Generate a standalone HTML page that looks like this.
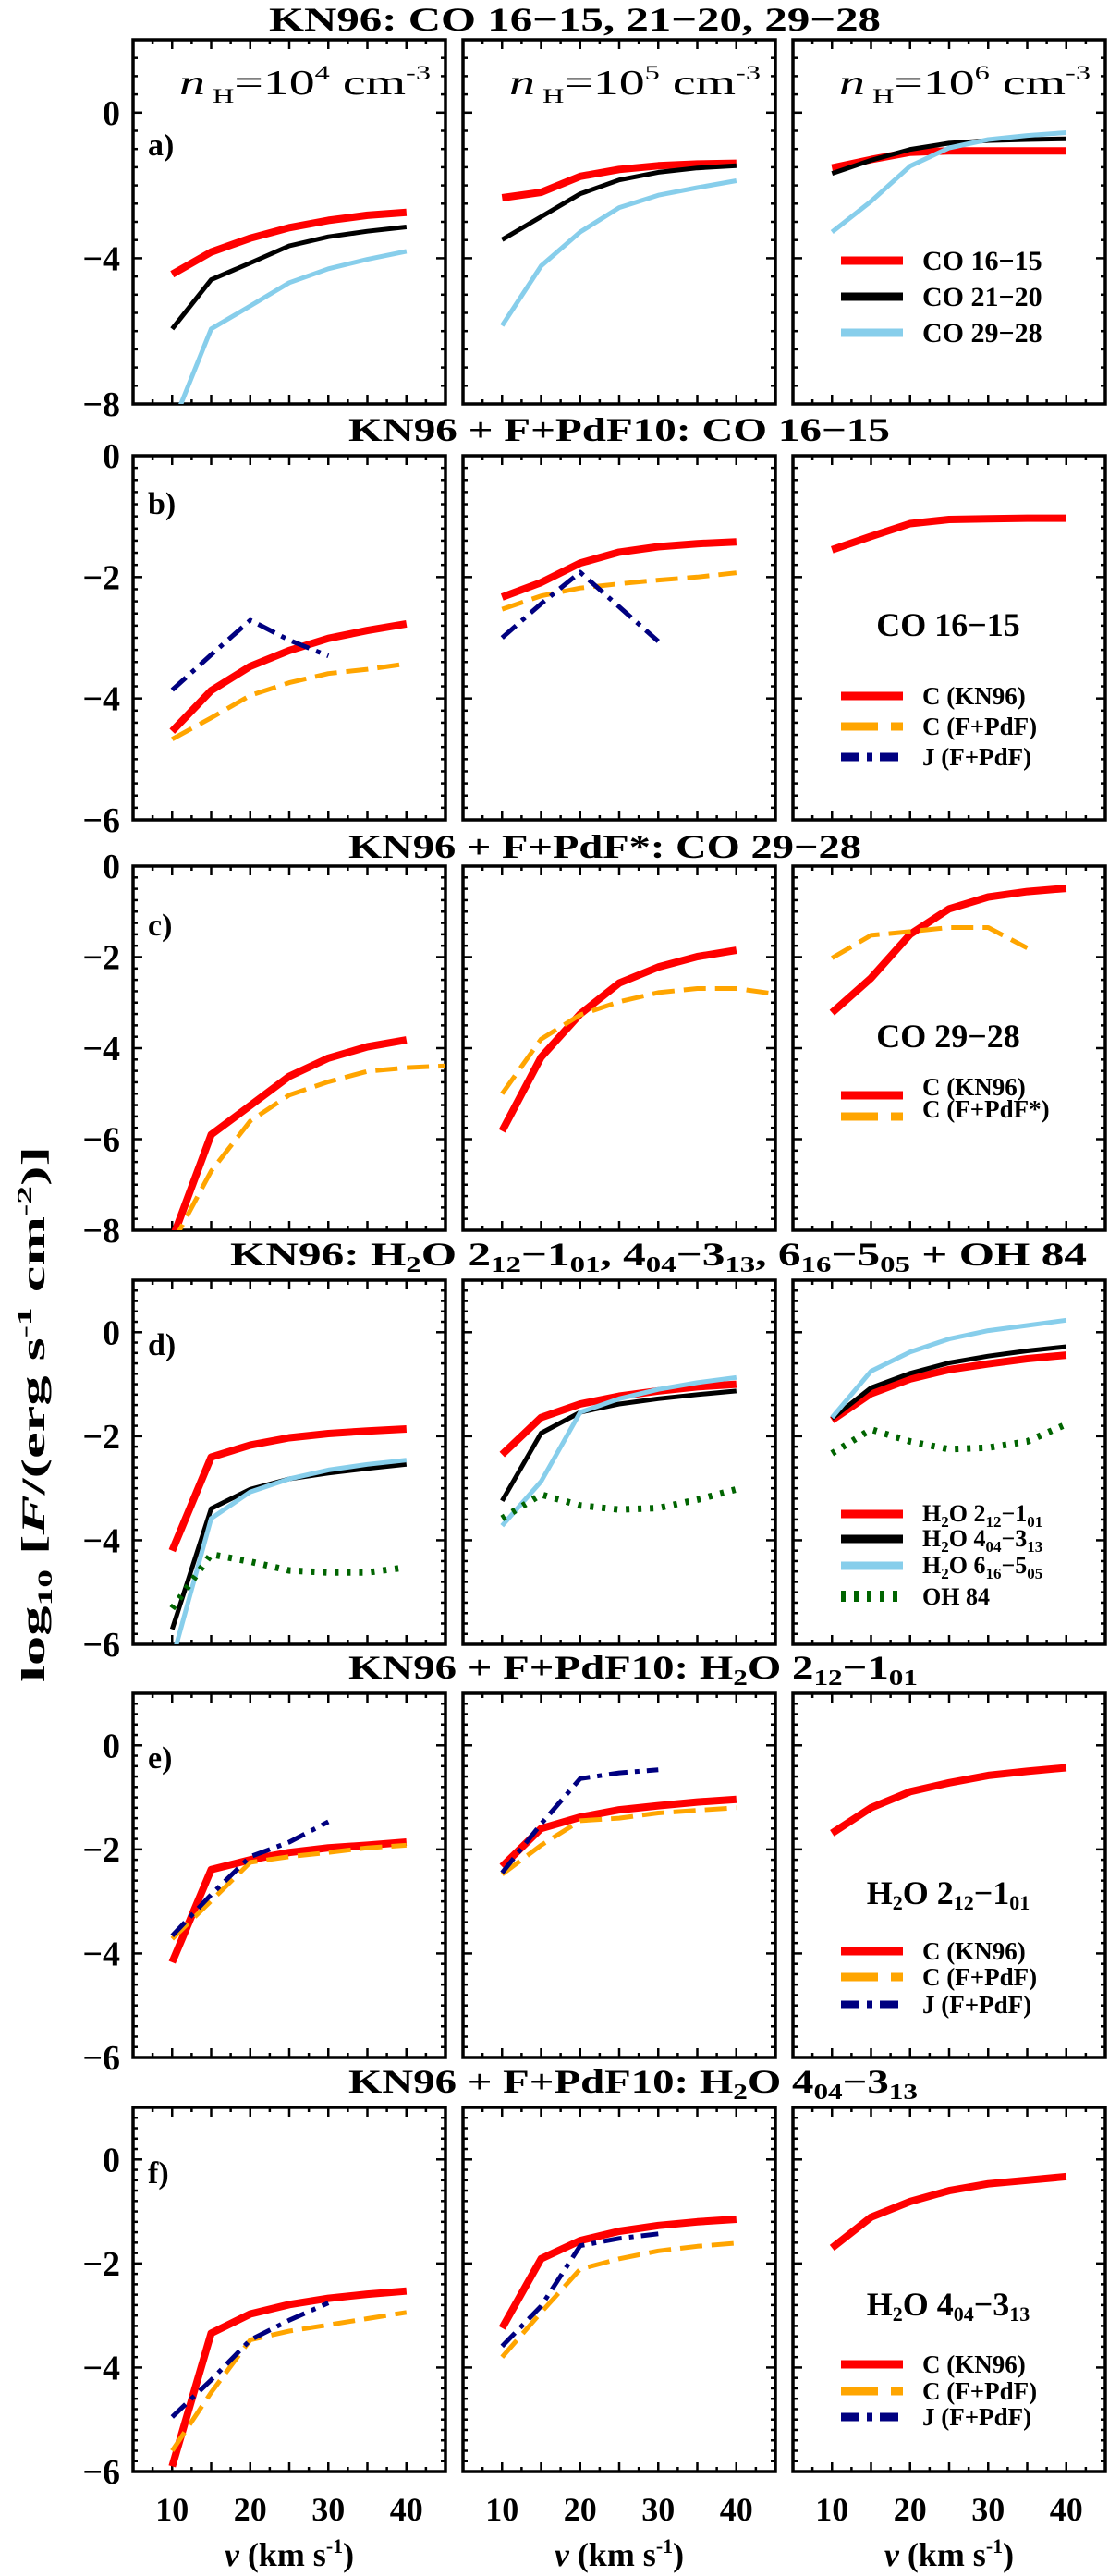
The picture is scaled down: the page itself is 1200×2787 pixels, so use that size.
<!DOCTYPE html>
<html><head><meta charset="utf-8"><title>Line fluxes vs shock velocity</title>
<style>
html,body{margin:0;padding:0;background:#fff;}
svg{display:block;font-family:"Liberation Serif",serif;}
text{fill:#000;}
</style></head>
<body>
<svg id="fig" width="1200" height="2787" viewBox="0 0 1200 2787" xmlns="http://www.w3.org/2000/svg"></svg>
<script>
// ---- data (log10 flux) ----
const V = [10,15,20,25,30,35,40];
const V30 = [10,15,20,25,30];
const V35 = [10,15,20,25,30,35];
const V45 = [10,15,20,25,30,35,40,45];
const xTicks = [10,20,30,40];

const a1Red = [-4.44,-3.83,-3.45,-3.16,-2.96,-2.82,-2.74];
const a1Black = [-5.94,-4.59,-4.13,-3.66,-3.41,-3.26,-3.14];
const a1Blue = [-8.6,-5.94,-5.31,-4.67,-4.29,-4.03,-3.81];
const a2Red = [-2.34,-2.19,-1.75,-1.56,-1.46,-1.41,-1.39];
const a2Black = [-3.49,-2.86,-2.23,-1.85,-1.64,-1.52,-1.46];
const a2Blue = [-5.85,-4.21,-3.28,-2.61,-2.27,-2.06,-1.87];
const a3Red = [-1.52,-1.29,-1.09,-1.05,-1.05,-1.05,-1.05];
const a3Black = [-1.67,-1.31,-1.01,-0.84,-0.77,-0.74,-0.72];
const a3Blue = [-3.28,-2.44,-1.47,-0.97,-0.74,-0.63,-0.55];

const b1Red = [-4.54,-3.87,-3.47,-3.21,-3.01,-2.88,-2.77];
const b1Orange = [-4.67,-4.32,-3.95,-3.74,-3.59,-3.52,-3.43];
const b1Navy = [-3.86,-3.28,-2.71,-3.04,-3.30];
const b2Red = [-2.33,-2.09,-1.77,-1.59,-1.50,-1.45,-1.42];
const b2Orange = [-2.53,-2.31,-2.18,-2.11,-2.05,-2.0,-1.93];
const b2Navy = [-3.0,-2.44,-1.92,-2.49,-3.06];
const b3Red = [-1.55,-1.33,-1.12,-1.05,-1.04,-1.03,-1.03];

const c1Red = [-8.2,-5.9,-5.26,-4.62,-4.22,-3.97,-3.82];
const c1Orange = [-8.3,-6.7,-5.6,-5.03,-4.74,-4.51,-4.43,-4.39];
const c2Red = [-5.82,-4.2,-3.25,-2.57,-2.22,-1.99,-1.85];
const c2Orange = [-5.0,-3.8,-3.27,-2.98,-2.78,-2.69,-2.69,-2.81];
const c3Red = [-3.22,-2.46,-1.5,-0.94,-0.68,-0.56,-0.49];
const c3Orange = [-2.02,-1.52,-1.44,-1.35,-1.35,-1.8];

const d1Red = [-4.2,-2.4,-2.17,-2.03,-1.95,-1.9,-1.86];
const d1Black = [-5.71,-3.39,-3.02,-2.82,-2.71,-2.62,-2.54];
const d1Blue = [-6.3,-3.58,-3.07,-2.82,-2.65,-2.54,-2.46];
const d1Green = [-5.31,-4.27,-4.41,-4.58,-4.62,-4.62,-4.52];
const d2Red = [-2.35,-1.64,-1.38,-1.23,-1.13,-1.05,-1.0];
const d2Black = [-3.24,-1.94,-1.54,-1.38,-1.28,-1.2,-1.13];
const d2Blue = [-3.72,-2.87,-1.54,-1.28,-1.10,-0.97,-0.87];
const d2Green = [-3.58,-3.12,-3.33,-3.41,-3.38,-3.22,-3.02];
const d3Red = [-1.69,-1.18,-0.9,-0.72,-0.61,-0.51,-0.44];
const d3Black = [-1.66,-1.07,-0.79,-0.59,-0.46,-0.36,-0.28];
const d3Blue = [-1.64,-0.75,-0.38,-0.13,0.03,0.13,0.23];
const d3Green = [-2.33,-1.87,-2.1,-2.25,-2.22,-2.1,-1.77];

const e1Red = [-4.17,-2.39,-2.2,-2.06,-1.97,-1.92,-1.86];
const e1Orange = [-3.72,-2.99,-2.25,-2.14,-2.06,-1.97,-1.92];
const e1Navy = [-3.66,-2.87,-2.14,-1.86,-1.47];
const e2Red = [-2.33,-1.6,-1.38,-1.24,-1.16,-1.09,-1.04];
const e2Orange = [-2.48,-1.92,-1.45,-1.40,-1.30,-1.25,-1.2];
const e2Navy = [-2.45,-1.51,-0.64,-0.53,-0.47];
const e3Red = [-1.69,-1.2,-0.89,-0.72,-0.58,-0.5,-0.43];

const f1Red = [-5.9,-3.34,-2.97,-2.79,-2.67,-2.59,-2.53];
const f1Orange = [-5.6,-4.48,-3.47,-3.3,-3.18,-3.06,-2.94];
const f1Navy = [-4.95,-4.24,-3.47,-3.09,-2.76];
const f2Red = [-3.24,-1.91,-1.56,-1.38,-1.27,-1.2,-1.15];
const f2Orange = [-3.8,-2.94,-2.11,-1.91,-1.76,-1.67,-1.61];
const f2Navy = [-3.59,-2.82,-1.66,-1.52,-1.43];
const f3Red = [-1.7,-1.11,-0.81,-0.6,-0.47,-0.4,-0.33];

// ---- layout ----
const NS = "http://www.w3.org/2000/svg";
const svg = document.getElementById('fig');
const colX = [144, 501, 858];
const PW = 338, PH = 394;
const rowTop = [43, 493, 937, 1385, 1832, 2280];
const rowYMin = [-8,-6,-8,-6,-6,-6];
const rowYMax = [2,0,0,1,1,1];
const rowYLabels = [[0,-4,-8],[0,-2,-4,-6],[0,-2,-4,-6,-8],[0,-2,-4,-6],[0,-2,-4,-6],[0,-2,-4,-6]];
const rowYMajor = [4,2,2,2,2,2];
const rowYMinor = [0.5,0.2,0.25,0.2,0.2,0.2];
const XMIN = 5, XMAX = 45;

function mk(tag, attrs, parent){
  const e = document.createElementNS(NS, tag);
  for (const k in attrs) e.setAttribute(k, attrs[k]);
  (parent||svg).appendChild(e);
  return e;
}
function xs(r,c,v){ return colX[c] + (v-XMIN)/(XMAX-XMIN)*PW; }
function ys(r,v){ return rowTop[r] + (rowYMax[r]-v)/(rowYMax[r]-rowYMin[r])*PH; }

const STY = {
  red:{stroke:'#ff0000',w:8,dash:''},
  black:{stroke:'#000000',w:5,dash:''},
  blue:{stroke:'#87ceeb',w:5,dash:''},
  orange:{stroke:'#ffa500',w:5,dash:'24 10'},
  navy:{stroke:'#000080',w:5,dash:'20 8 5 8'},
  green:{stroke:'#006400',w:7,dash:'4 9'}
};

const defs = mk('defs',{});
const panelLetters = ['a)','b)','c)','d)','e)','f)'];
const labelY = [168,556,1012,1466,1913,2362];
for (let r=0;r<6;r++){
  for (let c=0;c<3;c++){
    const g = mk('g',{});
    
    
    const cp = mk('clipPath',{id:'cp'+r+c},defs);
    mk('rect',{x:colX[c],y:rowTop[r],width:PW,height:PH},cp);
    const x0=colX[c], x1=colX[c]+PW, y0=rowTop[r], y1=rowTop[r]+PH;
    for (let v=7.5; v<XMAX; v+=2.5){
      const X = xs(r,c,v);
      const major = Math.abs(v/5-Math.round(v/5))<1e-6;
      const L = major?10:5;
      const t1 = mk('line',{x1:X,y1:y1,x2:X,y2:y1-L,stroke:'#000','stroke-width':2.5},g);
      
      
      const t2 = mk('line',{x1:X,y1:y0,x2:X,y2:y0+L,stroke:'#000','stroke-width':2.5},g);
      
      
    }
    const mn = rowYMinor[r];
    const n = Math.round((rowYMax[r]-rowYMin[r])/mn);
    for (let i=1;i<n;i++){
      const v = rowYMin[r] + i*mn;
      const Y = ys(r,v);
      const major = Math.abs(v/rowYMajor[r]-Math.round(v/rowYMajor[r]))<1e-6;
      const L = major?10:5;
      const t1 = mk('line',{x1:x0,y1:Y,x2:x0+L,y2:Y,stroke:'#000','stroke-width':2.5},g);
      
      
      const t2 = mk('line',{x1:x1,y1:Y,x2:x1-L,y2:Y,stroke:'#000','stroke-width':2.5},g);
      
      
    }
    const fr = mk('rect',{x:x0,y:y0,width:PW,height:PH,fill:'none',stroke:'#000','stroke-width':3.5},g);
    
    
    if (c===0){
      for (const v of rowYLabels[r]){
        const t = mk('text',{x:130,y:ys(r,v)+13,'text-anchor':'end','font-size':38,'font-weight':'bold'},svg);
        t.textContent = v<0 ? '\u2212'+Math.abs(v) : String(v);
        
        
      }
      const pl = mk('text',{x:160,y:labelY[r],'font-size':34,'font-weight':'bold'},svg);
      pl.textContent = panelLetters[r];
      
      
    }
    if (r===5){
      for (const v of xTicks){
        const t = mk('text',{x:xs(r,c,v),y:2727,'text-anchor':'middle','font-size':36,'font-weight':'bold'},svg);
        t.textContent = String(v);
        
        
      }
      const at = mk('text',{x:colX[c]+PW/2,y:2776,'text-anchor':'middle','font-size':36,'font-weight':'bold'},svg);
      at.innerHTML = '<tspan font-style="italic">v</tspan> (km s<tspan dy="-14" font-size="22">-1</tspan><tspan dy="14">)</tspan>';
      
      
    }
  }
}

const series = [
  [0,0,V,a1Red,'red'],[0,0,V,a1Black,'black'],[0,0,V,a1Blue,'blue'],
  [0,1,V,a2Red,'red'],[0,1,V,a2Black,'black'],[0,1,V,a2Blue,'blue'],
  [0,2,V,a3Red,'red'],[0,2,V,a3Black,'black'],[0,2,V,a3Blue,'blue'],
  [1,0,V,b1Red,'red'],[1,0,V,b1Orange,'orange'],[1,0,V30,b1Navy,'navy'],
  [1,1,V,b2Red,'red'],[1,1,V,b2Orange,'orange'],[1,1,V30,b2Navy,'navy'],
  [1,2,V,b3Red,'red'],
  [2,0,V,c1Red,'red'],[2,0,V45,c1Orange,'orange'],
  [2,1,V,c2Red,'red'],[2,1,V45,c2Orange,'orange'],
  [2,2,V,c3Red,'red'],[2,2,V35,c3Orange,'orange'],
  [3,0,V,d1Red,'red'],[3,0,V,d1Black,'black'],[3,0,V,d1Blue,'blue'],[3,0,V,d1Green,'green'],
  [3,1,V,d2Red,'red'],[3,1,V,d2Black,'black'],[3,1,V,d2Blue,'blue'],[3,1,V,d2Green,'green'],
  [3,2,V,d3Red,'red'],[3,2,V,d3Black,'black'],[3,2,V,d3Blue,'blue'],[3,2,V,d3Green,'green'],
  [4,0,V,e1Red,'red'],[4,0,V,e1Orange,'orange'],[4,0,V30,e1Navy,'navy'],
  [4,1,V,e2Red,'red'],[4,1,V,e2Orange,'orange'],[4,1,V30,e2Navy,'navy'],
  [4,2,V,e3Red,'red'],
  [5,0,V,f1Red,'red'],[5,0,V,f1Orange,'orange'],[5,0,V30,f1Navy,'navy'],
  [5,1,V,f2Red,'red'],[5,1,V,f2Orange,'orange'],[5,1,V30,f2Navy,'navy'],
  [5,2,V,f3Red,'red']
];
for (const s of series){
  const [r,c,xv,yv,st] = s;
  const pts = xv.map((v,i)=> xs(r,c,v).toFixed(1)+','+ys(r,yv[i]).toFixed(1)).join(' ');
  const S = STY[st];
  const pl = mk('polyline',{points:pts,fill:'none',stroke:S.stroke,'stroke-width':S.w,'stroke-linejoin':'round','clip-path':'url(#cp'+r+c+')'});
  if (S.dash) pl.setAttribute('stroke-dasharray',S.dash);
  
  
}

function legLine(x,y,st,name){
  const S = STY[st];
  const l = mk('line',{x1:910,y1:y,x2:977,y2:y,stroke:S.stroke,'stroke-width':st==='green'?12:9});
  if (S.dash) l.setAttribute('stroke-dasharray', st==='green'?'5 9':(st==='orange'?'40 14 4 0':'20 8 6 8'));
  
  
}
function legText(y,html,color,name,size){
  const t = mk('text',{x:998,y:y,'font-size':size||27,'font-weight':'bold',fill:color||'#000'});
  t.innerHTML = html;
  
  
  return t;
}
function legTitle(y,html,name){
  const t = mk('text',{x:1026,y:y,'font-size':36,'font-weight':'bold','text-anchor':'middle'});
  t.innerHTML = html;
  
  
}
legLine(0,282,'red','legend-swatch-co1615'); legText(292,'CO 16\u221215','#ff0000','legend-co1615',30);
legLine(0,321,'black','legend-swatch-co2120'); legText(331,'CO 21\u221220','#000','legend-co2120',30);
legLine(0,360,'blue','legend-swatch-co2928'); legText(370,'CO 29\u221228','#87ceeb','legend-co2928',30);

legTitle(688,'CO 16\u221215','legend-title-b');
legLine(0,753,'red','legend-swatch-c-kn96'); legText(762,'C (KN96)','#000','legend-c-kn96');
legLine(0,786,'orange','legend-swatch-c-fpdf'); legText(795,'C (F+PdF)','#000','legend-c-fpdf');
legLine(0,819,'navy','legend-swatch-j-fpdf'); legText(828,'J (F+PdF)','#000','legend-j-fpdf');

legTitle(1133,'CO 29\u221228','legend-title-c');
legLine(0,1185,'red','legend-swatch-c-kn96-c'); legText(1185,'C (KN96)','#000','legend-c-kn96-c');
legLine(0,1208,'orange','legend-swatch-c-fpdfstar'); legText(1209,'C (F+PdF*)','#000','legend-c-fpdfstar');

const sub = (s,f)=>'<tspan dy="6" font-size="'+f+'">'+s+'</tspan>';
function h2o(a,al,b,bl,f){ return 'H<tspan dy="6" font-size="'+f+'">2</tspan><tspan dy="-6">O '+a+'</tspan><tspan dy="6" font-size="'+f+'">'+al+'</tspan><tspan dy="-6">\u2212'+b+'</tspan><tspan dy="6" font-size="'+f+'">'+bl+'</tspan>'; }
legLine(0,1638,'red','legend-swatch-h2o-212'); legText(1646,h2o('2','12','1','01',17),'#ff0000','legend-h2o-212',26);
legLine(0,1665,'black','legend-swatch-h2o-404'); legText(1673,h2o('4','04','3','13',17),'#000','legend-h2o-404',26);
legLine(0,1694,'blue','legend-swatch-h2o-616'); legText(1702,h2o('6','16','5','05',17),'#87ceeb','legend-h2o-616',26);
legLine(0,1727,'green','legend-swatch-oh84'); legText(1736,'OH 84','#006400','legend-oh84',26);

legTitle(2060,h2o('2','12','1','01',22),'legend-title-e');
legLine(0,2111,'red','legend-swatch-c-kn96-e'); legText(2120,'C (KN96)','#000','legend-c-kn96-e');
legLine(0,2139,'orange','legend-swatch-c-fpdf-e'); legText(2148,'C (F+PdF)','#000','legend-c-fpdf-e');
legLine(0,2169,'navy','legend-swatch-j-fpdf-e'); legText(2178,'J (F+PdF)','#000','legend-j-fpdf-e');

legTitle(2505,h2o('4','04','3','13',22),'legend-title-f');
legLine(0,2558,'red','legend-swatch-c-kn96-f'); legText(2567,'C (KN96)','#000','legend-c-kn96-f');
legLine(0,2587,'orange','legend-swatch-c-fpdf-f'); legText(2596,'C (F+PdF)','#000','legend-c-fpdf-f');
legLine(0,2615,'navy','legend-swatch-j-fpdf-f'); legText(2624,'J (F+PdF)','#000','legend-j-fpdf-f');

const dens = ['4','5','6'];
for (let c=0;c<3;c++){
  const t = mk('text',{x:colX[c]+50,y:102,'font-size':38,textLength:272,lengthAdjust:'spacingAndGlyphs'});
  t.innerHTML = '<tspan font-style="italic">n</tspan><tspan dy="9" font-size="22"> H</tspan><tspan dy="-9">=10</tspan><tspan dy="-16" font-size="22">'+dens[c]+'</tspan><tspan dy="16"> cm</tspan><tspan dy="-16" font-size="22">-3</tspan>';
  
  
}

function title(x,y,len,html,name){
  const t = mk('text',{x:x,y:y,'font-size':36,'font-weight':'bold',textLength:len,lengthAdjust:'spacingAndGlyphs'});
  t.innerHTML = html;
  
  
}
const hs = (s)=>'<tspan dy="7" font-size="24">'+s+'</tspan>';
title(291,33,662,'KN96:  CO  16\u221215,  21\u221220,  29\u221228','title-row-a');
title(377,477,586,'KN96  +  F+PdF10:  CO  16\u221215','title-row-b');
title(377,928,555,'KN96  +  F+PdF*:  CO  29\u221228','title-row-c');
title(249,1369,927,'KN96:  H<tspan dy="7" font-size="24">2</tspan><tspan dy="-7">O  2</tspan><tspan dy="7" font-size="24">12</tspan><tspan dy="-7">\u22121</tspan><tspan dy="7" font-size="24">01</tspan><tspan dy="-7">,  4</tspan><tspan dy="7" font-size="24">04</tspan><tspan dy="-7">\u22123</tspan><tspan dy="7" font-size="24">13</tspan><tspan dy="-7">,  6</tspan><tspan dy="7" font-size="24">16</tspan><tspan dy="-7">\u22125</tspan><tspan dy="7" font-size="24">05</tspan><tspan dy="-7">    +  OH  84</tspan>','title-row-d');
title(377,1816,616,'KN96  +  F+PdF10:  H<tspan dy="7" font-size="24">2</tspan><tspan dy="-7">O  2</tspan><tspan dy="7" font-size="24">12</tspan><tspan dy="-7">\u22121</tspan><tspan dy="7" font-size="24">01</tspan>','title-row-e');
title(377,2264,616,'KN96  +  F+PdF10:  H<tspan dy="7" font-size="24">2</tspan><tspan dy="-7">O  4</tspan><tspan dy="7" font-size="24">04</tspan><tspan dy="-7">\u22123</tspan><tspan dy="7" font-size="24">13</tspan>','title-row-f');

const yt = mk('text',{x:0,y:0,'font-size':36,'font-weight':'bold','text-anchor':'middle',textLength:580,lengthAdjust:'spacingAndGlyphs',transform:'translate(48,1530) rotate(-90)'});
yt.innerHTML = 'log<tspan dy="8" font-size="22">10</tspan><tspan dy="-8"> [</tspan><tspan font-style="italic">F</tspan>/(erg s<tspan dy="-14" font-size="22">-1</tspan><tspan dy="14"> cm</tspan><tspan dy="-14" font-size="22">-2</tspan><tspan dy="14">)]</tspan>';


</script>
</body></html>
